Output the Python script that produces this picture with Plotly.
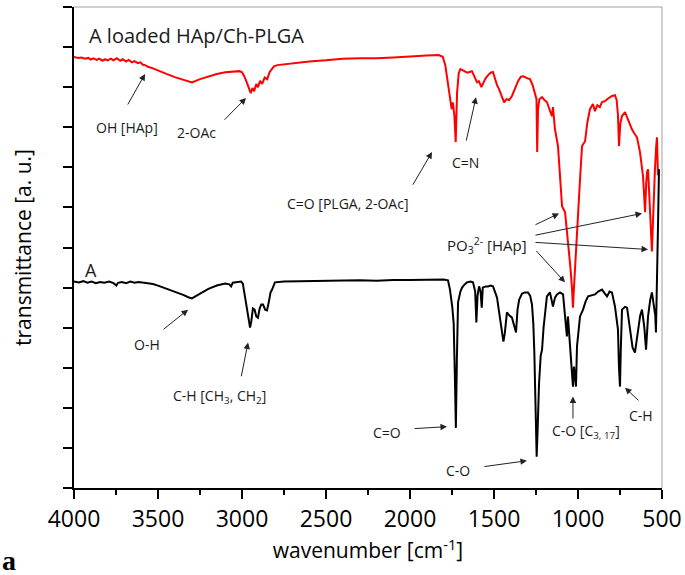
import plotly.graph_objects as go

# ---- data ----
red_wn = [4000,3975,3955,3935,3915,3900,3885,3865,3850,3830,3815,3800,3780,3765,3745,3725,3710,3690,3675,3655,3640,3620,3605,3590,3577,3560,3530,3500,3450,3400,3350,3298,3250,3200,3150,3100,3050,3015,3000,2985,2970,2958,2948,2938,2928,2915,2905,2892,2880,2865,2850,2835,2820,2810,2790,2700,2600,2500,2400,2300,2200,2100,2000,1900,1830,1805,1790,1780,1765,1752,1745,1736,1728,1720,1710,1700,1690,1675,1660,1645,1631,1615,1601,1590,1575,1562,1550,1535,1520,1506,1495,1482,1470,1455,1440,1425,1410,1393,1375,1357,1340,1325,1300,1286,1270,1256,1247,1243,1238,1230,1214,1200,1185,1170,1155,1149,1137,1119,1107,1095,1077,1060,1045,1036,1030,1024,1015,1006,995,988,976,965,958,945,929,911,899,885,870,857,840,827,810,798,780,770,762,756,748,738,720,700,679,665,649,631,620,613,605,601,594,589,583,575,565,560,554,548,542,535,530,524]
red_t = [10.75,10.73,10.74,10.71,10.73,10.69,10.72,10.68,10.71,10.66,10.70,10.67,10.71,10.67,10.72,10.66,10.70,10.64,10.68,10.62,10.65,10.60,10.62,10.56,10.55,10.51,10.47,10.41,10.33,10.25,10.18,10.12,10.20,10.27,10.33,10.37,10.39,10.40,10.37,10.26,10.10,9.97,9.85,9.98,9.90,10.08,10.00,10.16,10.08,10.24,10.20,10.38,10.45,10.52,10.55,10.60,10.64,10.67,10.71,10.72,10.72,10.74,10.77,10.79,10.80,10.76,10.55,10.25,9.80,9.45,9.62,9.30,8.63,9.85,10.35,10.45,10.43,10.40,10.36,10.38,10.40,10.25,10.12,10.15,10.00,10.12,10.22,10.30,10.36,10.38,10.22,10.05,9.95,9.80,9.62,9.70,9.68,9.78,9.95,10.15,10.26,10.27,10.22,10.20,10.05,9.85,9.70,8.38,9.45,9.70,9.75,9.68,9.63,9.45,9.28,9.50,8.95,8.53,7.70,7.03,6.88,6.20,5.50,5.00,4.50,5.00,5.60,6.20,7.10,7.70,8.53,8.60,8.65,9.10,9.45,9.58,9.40,9.55,9.50,9.63,9.65,9.70,9.75,9.78,9.80,9.68,9.30,8.53,9.10,9.28,9.38,9.15,8.95,8.85,8.75,8.38,8.05,7.78,7.20,6.88,7.60,7.88,7.95,7.20,6.20,5.90,6.60,7.50,7.95,8.50,8.75,7.80]

black_wn = [4000,3970,3945,3920,3895,3870,3845,3820,3790,3765,3748,3738,3715,3690,3665,3640,3615,3590,3560,3530,3500,3450,3400,3350,3320,3298,3270,3240,3200,3150,3100,3075,3065,3055,3030,3005,2995,2985,2975,2968,2960,2952,2945,2935,2925,2915,2905,2895,2885,2875,2862,2851,2840,2830,2821,2804,2750,2600,2500,2400,2300,2200,2100,2000,1900,1800,1774,1762,1748,1740,1733,1727,1721,1714,1700,1690,1675,1661,1640,1625,1612,1605,1598,1589,1580,1573,1567,1550,1536,1520,1506,1494,1482,1470,1455,1444,1436,1423,1408,1393,1380,1369,1360,1350,1333,1315,1298,1285,1274,1266,1260,1253,1246,1240,1232,1222,1214,1205,1197,1185,1167,1149,1137,1125,1107,1089,1077,1066,1060,1048,1036,1030,1024,1018,1012,1006,988,970,955,940,920,899,880,857,840,827,812,798,780,768,762,756,750,745,738,720,708,690,675,661,650,643,630,619,605,595,588,583,570,560,548,540,536,530,524,518]
black_t = [5.15,5.13,5.16,5.12,5.15,5.11,5.14,5.12,5.15,5.11,5.05,5.12,5.14,5.11,5.15,5.12,5.14,5.13,5.12,5.09,5.05,4.98,4.90,4.82,4.76,4.73,4.80,4.88,4.97,5.05,5.10,5.08,5.03,5.12,5.14,5.15,5.10,4.85,4.55,4.42,4.20,4.00,4.15,4.48,4.45,4.28,4.25,4.48,4.58,4.58,4.45,4.43,4.65,4.88,4.95,5.13,5.15,5.16,5.17,5.16,5.18,5.17,5.19,5.19,5.20,5.20,5.18,4.95,4.50,4.10,2.80,1.50,3.20,4.63,4.90,5.00,5.08,5.13,5.15,5.13,4.90,4.13,4.80,5.03,4.90,4.50,5.00,5.03,5.03,5.05,5.03,4.90,4.75,4.40,4.00,3.65,3.85,4.38,4.30,4.25,4.05,3.88,4.45,4.70,4.85,4.88,4.88,4.80,4.58,4.10,3.40,2.00,0.78,1.50,2.60,3.30,3.45,4.00,4.28,4.78,4.88,4.53,4.75,4.83,4.88,4.83,4.28,3.78,4.28,3.60,2.95,2.53,3.03,2.80,2.53,3.53,4.28,4.45,4.65,4.78,4.80,4.83,4.90,4.95,4.85,4.78,4.90,4.88,4.53,4.20,3.95,3.00,2.53,3.50,4.45,4.52,4.50,3.95,3.50,3.38,3.70,3.95,4.30,4.45,4.00,3.45,4.00,4.28,4.70,4.88,4.53,4.30,3.88,4.95,6.50,7.95]

x_ticks = [4000, 3500, 3000, 2500, 2000, 1500, 1000, 500]

FONT = "Open Sans"

fig = go.Figure()
fig.add_trace(go.Scatter(x=red_wn, y=red_t, mode="lines",
                         line=dict(color="#ff0000", width=2), showlegend=False))
fig.add_trace(go.Scatter(x=black_wn, y=black_t, mode="lines",
                         line=dict(color="#000000", width=2), showlegend=False))

# text labels (x, y in data coords)
labels = [
    ("A loaded HAp/Ch-PLGA", 3923, 11.28, 20, "left"),
    ("OH [HAp]", 3685, 9.0, 14, "center"),
    ("2-OAc", 3268, 8.88, 14, "center"),
    ("C=O [PLGA, 2-OAc]", 2369, 7.1, 14, "center"),
    ("C=N", 1667, 8.13, 14, "center"),
    ("PO<sub>3</sub><sup>2-</sup> [HAp]", 1542, 6.05, 15, "center"),
    ("A", 3899, 5.45, 18, "center"),
    ("O-H", 3565, 3.58, 14, "center"),
    ("C-H [CH<sub>3</sub>, CH<sub>2</sub>]", 3131, 2.28, 14, "center"),
    ("C=O", 2137, 1.38, 14, "center"),
    ("C-O", 1714, 0.43, 14, "center"),
    ("C-O [C<sub>3, 17</sub>]", 953, 1.4, 14, "center"),
    ("C-H", 625, 1.8, 14, "center"),
]
for t, x, y, s, xa in labels:
    fig.add_annotation(x=x, y=y, text=t, showarrow=False, xanchor=xa, yanchor="middle",
                       font=dict(family=FONT, size=s, color="#1a1a1a"))

# arrows: (tail_x, tail_y, head_x, head_y)
arrows = [
    (3685, 9.53, 3577, 10.33),
    (3113, 9.15, 2976, 9.73),
    (1988, 7.53, 1869, 8.38),
    (1667, 8.63, 1607, 9.75),
    (1262, 6.55, 1113, 6.85),
    (1262, 6.30, 619, 6.85),
    (1262, 6.13, 583, 5.95),
    (1256, 5.95, 1077, 5.13),
    (3476, 3.93, 3321, 4.45),
    (3006, 2.75, 2964, 3.63),
    (1982, 1.48, 1780, 1.53),
    (1566, 0.53, 1304, 0.68),
    (1030, 1.70, 1030, 2.28),
    (631, 2.15, 720, 2.50),
]
for tx, ty, hx, hy in arrows:
    fig.add_annotation(x=hx, y=hy, ax=tx, ay=ty, axref="x", ayref="y", text="",
                       showarrow=True, arrowhead=2, arrowsize=1.3, arrowwidth=1,
                       arrowcolor="#222222")

# panel letter
fig.add_annotation(x=-74 / 588, y=-0.15, xref="paper", yref="paper", text="<b>a</b>",
                   showarrow=False, xanchor="left", yanchor="middle",
                   font=dict(family="Liberation Serif", size=28, color="#000"))

# thin gray top/right frame
fig.add_shape(type="line", xref="paper", yref="paper", x0=0, x1=1, y0=1, y1=1,
              line=dict(color="#a0a0a0", width=1))
fig.add_shape(type="line", xref="paper", yref="paper", x0=1, x1=1, y0=0, y1=1,
              line=dict(color="#a0a0a0", width=1))

fig.update_layout(
    width=685, height=575,
    margin=dict(l=74, r=23, t=7, b=87, autoexpand=False),
    paper_bgcolor="white", plot_bgcolor="white",
    font=dict(family=FONT, color="#000"),
    xaxis=dict(range=[4000, 500], tickvals=x_ticks, ticktext=[str(v) for v in x_ticks],
               ticks="outside", ticklen=9, tickwidth=2, tickcolor="#000",
               showline=True, linecolor="#000", linewidth=2, showgrid=False, zeroline=False,
               tickfont=dict(size=23, family=FONT),
               minor=dict(dtick=250, tick0=500, ticks="outside", ticklen=5, tickwidth=2, tickcolor="#000"),
               title=dict(text="wavenumber [cm<sup>-1</sup>]", font=dict(size=21, family=FONT), standoff=10)),
    yaxis=dict(range=[0, 12], dtick=1, tick0=0, showticklabels=False,
               ticks="outside", ticklen=9, tickwidth=2, tickcolor="#000",
               showline=True, linecolor="#000", linewidth=2, showgrid=False, zeroline=False,
               title=dict(text="transmittance [a. u.]", font=dict(size=21, family=FONT), standoff=26)),
)

fig.write_html("out.html", config={"displayModeBar": False},
               post_script="document.body.style.margin='0px';document.body.style.overflow='hidden';")
